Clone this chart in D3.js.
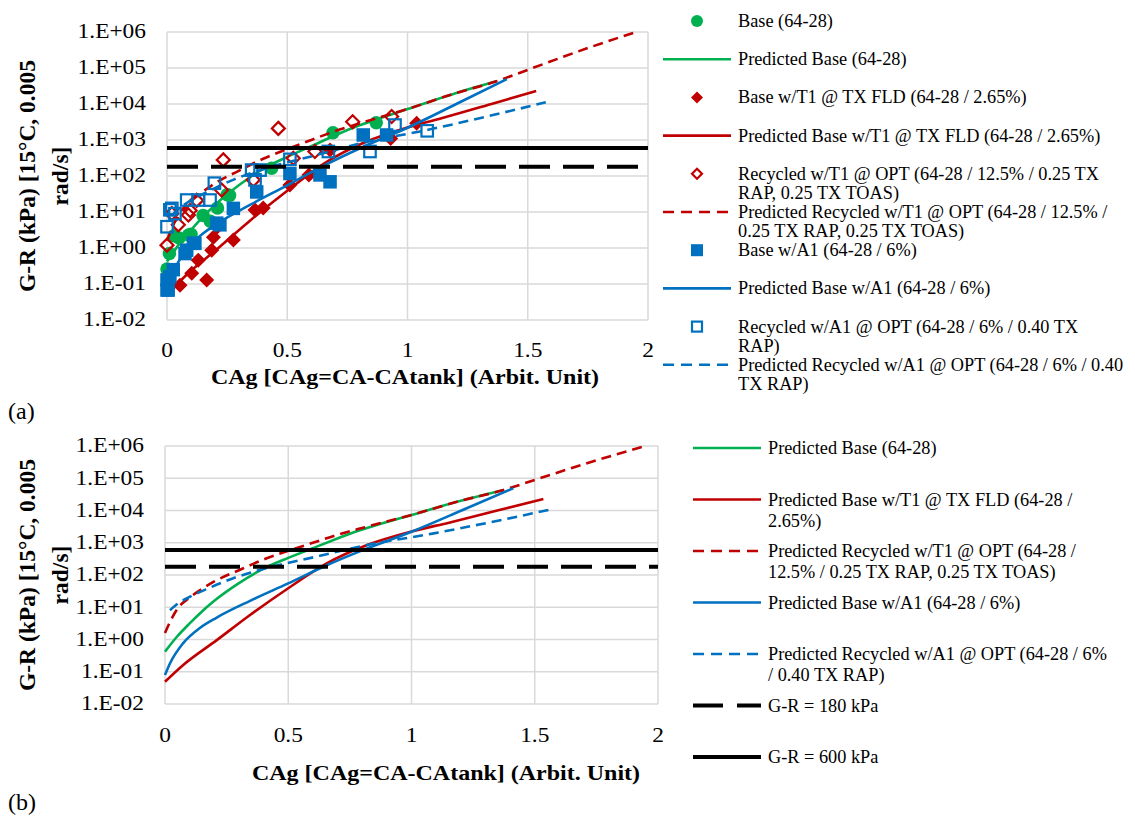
<!DOCTYPE html>
<html><head><meta charset="utf-8">
<script src="https://cdn.jsdelivr.net/npm/d3@7"></script>
<style>
body{margin:0;background:#fff}
svg{display:block}
text{font-family:"Liberation Serif","Times New Roman",serif;fill:#000}
</style>
</head><body>
<svg id="c" width="1135" height="826"></svg>
<script>
// ---------- DATA ----------
const xTickValues = [0, 0.5, 1, 1.5, 2];
const yTickValues = [1e-2, 1e-1, 1, 1e1, 1e2, 1e3, 1e4, 1e5, 1e6];
const limitValues = [180, 600];

// measured points
const baseX = [0.00, 0.01, 0.03, 0.05, 0.09, 0.10, 0.15, 0.18, 0.21, 0.25, 0.26, 0.435, 0.69, 0.87];
const baseY = [0.26, 0.7, 2.2, 1.9, 2.3, 2.4, 8.0, 5.5, 13, 30, 29, 165, 1600, 3000];

const baseT1X = [0.054, 0.103, 0.13, 0.165, 0.186, 0.193, 0.21, 0.276, 0.366, 0.40, 0.511, 0.59, 0.678, 0.93, 1.038];
const baseT1Y = [0.093, 0.2, 0.46, 0.13, 0.87, 2.0, 3.9, 1.67, 11.4, 13, 56, 107, 525, 1100, 2900];

const recT1X = [0.0, 0.02, 0.047, 0.089, 0.096, 0.123, 0.227, 0.234, 0.359, 0.463, 0.525, 0.615, 0.772, 0.934];
const recT1Y = [1.2, 9, 4.4, 8.3, 11, 21, 41, 280, 78, 2100, 310, 480, 3200, 4500];

const baseA1X = [0.0, 0.0, 0.005, 0.012, 0.026, 0.075, 0.082, 0.11, 0.116, 0.207, 0.22, 0.276, 0.373, 0.511, 0.636, 0.678, 0.816, 0.913];
const baseA1Y = [0.068, 0.13, 0.068, 0.16, 0.25, 0.7, 0.87, 1.35, 1.35, 4.9, 4.4, 12.6, 36, 117, 107, 69, 1380, 1380];

const recA1X = [0.0, 0.012, 0.02, 0.033, 0.082, 0.13, 0.179, 0.197, 0.352, 0.366, 0.387, 0.511, 0.671, 0.844, 0.948, 1.082];
const recA1Y = [3.9, 11.5, 12.6, 9, 21.5, 21.5, 21.5, 63, 146, 78, 146, 290, 480, 480, 2600, 1800];

// predicted curves (values in kPa)
const predBaseX = [0, 0.05, 0.1, 0.15, 0.2, 0.3, 0.4, 0.5, 0.6, 0.75, 1.0, 1.2, 1.37];
const predBaseY = [0.42, 1.26, 3.16, 7.4, 15.8, 56, 158, 339, 676, 1900, 7240, 20000, 42700];

const predT1X = [0, 0.074, 0.21, 0.345, 0.5, 0.656, 0.82, 1.0, 1.156, 1.36, 1.535];
const predT1Y = [0.049, 0.162, 0.955, 5.75, 38.9, 229, 851, 2240, 4270, 10500, 22900];

const predRecT1X = [0, 0.02, 0.05, 0.1, 0.15, 0.2, 0.3, 0.4, 0.5, 0.6, 0.7, 0.82, 1.0, 1.2, 1.37, 1.5, 1.765, 1.95];
const predRecT1Y = [1.6, 3.5, 8.9, 20, 37, 63, 141, 302, 562, 1000, 1780, 3160, 7240, 20000, 42700, 89000, 389000, 1000000];

const predA1X = [0, 0.02, 0.073, 0.14, 0.21, 0.345, 0.5, 0.656, 0.805, 1.0, 1.224, 1.413];
const predA1Y = [0.079, 0.18, 0.76, 2.24, 4.8, 15.8, 55, 200, 600, 2190, 11750, 49000];

const predRecA1X = [0.02, 0.05, 0.1, 0.18, 0.277, 0.41, 0.615, 0.82, 1.09, 1.36, 1.575];
const predRecA1Y = [8.1, 12.6, 20.9, 39.8, 79.4, 162, 372, 851, 1950, 5010, 11200];

const legendA = [
  ["Base (64-28)"],
  ["Predicted Base (64-28)"],
  ["Base w/T1 @ TX FLD (64-28 / 2.65%)"],
  ["Predicted Base w/T1 @ TX FLD (64-28 / 2.65%)"],
  ["Recycled w/T1 @ OPT (64-28 / 12.5% / 0.25 TX", "RAP, 0.25 TX TOAS)"],
  ["Predicted Recycled w/T1 @ OPT (64-28 / 12.5% /", "0.25 TX RAP, 0.25 TX TOAS)"],
  ["Base w/A1 (64-28 / 6%)"],
  ["Predicted Base w/A1 (64-28 / 6%)"],
  ["Recycled w/A1 @ OPT (64-28 / 6% / 0.40 TX", "RAP)"],
  ["Predicted Recycled w/A1 @ OPT (64-28 / 6% / 0.40", "TX RAP)"]
];
const legendB = [
  ["Predicted Base (64-28)"],
  ["Predicted Base w/T1 @ TX FLD (64-28 /", "2.65%)"],
  ["Predicted Recycled w/T1 @ OPT (64-28 /", "12.5% / 0.25 TX RAP, 0.25 TX TOAS)"],
  ["Predicted Base w/A1 (64-28 / 6%)"],
  ["Predicted Recycled w/A1 @ OPT (64-28 / 6%", "/ 0.40 TX RAP)"],
  ["G-R = 180 kPa"],
  ["G-R = 600 kPa"]
];
const xTitle = "CAg [CAg=CA-CAtank] (Arbit. Unit)";
const yTitle = ["G-R (kPa) [15°C, 0.005", "rad/s]"];

// ---------- STYLE ----------
const GREEN = "#00b050", RED = "#c00000", BLUE = "#0070c0";
const zip = (xs, ys) => xs.map((x, i) => [x, ys[i]]);

const scatterSeries = [
  {key: "base", data: zip(baseX, baseY), shape: "circle", color: GREEN, filled: true},
  {key: "baseT1", data: zip(baseT1X, baseT1Y), shape: "diamond", color: RED, filled: true},
  {key: "recT1", data: zip(recT1X, recT1Y), shape: "diamond", color: RED, filled: false},
  {key: "baseA1", data: zip(baseA1X, baseA1Y), shape: "square", color: BLUE, filled: true},
  {key: "recA1", data: zip(recA1X, recA1Y), shape: "square", color: BLUE, filled: false}
];
const lineSeries = [
  {key: "predBase", data: zip(predBaseX, predBaseY), color: GREEN, dash: null},
  {key: "predT1", data: zip(predT1X, predT1Y), color: RED, dash: null},
  {key: "predRecT1", data: zip(predRecT1X, predRecT1Y), color: RED, dash: "10,6"},
  {key: "predA1", data: zip(predA1X, predA1Y), color: BLUE, dash: null},
  {key: "predRecA1", data: zip(predRecA1X, predRecA1Y), color: BLUE, dash: "10,6"}
];

const svg = d3.select("#c");

function fmtExp(v) {
  const e = Math.round(Math.log10(v));
  const s = e < 0 ? "-" : "+";
  return "1.E" + s + String(Math.abs(e)).padStart(2, "0");
}

function stretchedText(g, x, y, str, opts) {
  const t = g.append("g").attr("transform", `translate(${x},${y}) scale(${opts.sx || 1},1)`)
    .append("text").attr("x", 0).attr("y", 0)
    .attr("text-anchor", opts.anchor || "start")
    .style("font-size", opts.size + "px")
    .style("font-weight", opts.bold ? "bold" : "normal")
    .text(str);
  if (opts.central) t.attr("dominant-baseline", "central");
  return t;
}

function drawMarker(g, shape, cx, cy, size, color, filled) {
  let el;
  if (shape === "circle") {
    el = g.append("circle").attr("cx", cx).attr("cy", cy).attr("r", size / 2);
  } else if (shape === "square") {
    const s = filled ? size : size - 2;
    el = g.append("rect").attr("x", cx - s / 2).attr("y", cy - s / 2).attr("width", s).attr("height", s);
  } else {
    const h = filled ? size / 2 : size / 2 - 1;
    el = g.append("path").attr("d", `M${cx},${cy - h}L${cx + h},${cy}L${cx},${cy + h}L${cx - h},${cy}Z`);
  }
  if (filled) el.attr("fill", color).attr("stroke", "none");
  else el.attr("fill", "none").attr("stroke", color).attr("stroke-width", 2.2);
  return el;
}

function drawPanel(cfg) {
  const g = svg.append("g");
  const x = d3.scaleLinear().domain([0, 2]).range([cfg.x0, cfg.x1]);
  const y = d3.scaleLog().domain([1e-2, 1e6]).range([cfg.yb, cfg.yt]);

  g.selectAll(".hg").data(yTickValues).join("line")
    .attr("x1", cfg.x0).attr("x2", cfg.x1).attr("y1", d => y(d)).attr("y2", d => y(d))
    .attr("stroke", "#d9d9d9").attr("stroke-width", 1.5);
  g.selectAll(".vg").data(xTickValues).join("line")
    .attr("x1", d => x(d)).attr("x2", d => x(d)).attr("y1", cfg.yt).attr("y2", cfg.yb)
    .attr("stroke", "#d9d9d9").attr("stroke-width", 1.5);

  yTickValues.forEach(v => stretchedText(g, cfg.x0 - 21, y(v), fmtExp(v), {size: 20, sx: 1.17, anchor: "end", central: true}));
  xTickValues.forEach(v => stretchedText(g, x(v), cfg.xTickY, d3.format("")(v), {size: 20, sx: 1.17, anchor: "middle"}));

  stretchedText(g, cfg.xTitleX, cfg.xTitleY, xTitle, {size: 20, sx: 1.2, anchor: "middle", bold: true});
  const cy = (cfg.yt + cfg.yb) / 2;
  yTitle.forEach((line, i) => {
    g.append("text").attr("transform", `translate(${[27, 60][i]},${cy}) rotate(-90)`)
      .attr("text-anchor", "middle").attr("dominant-baseline", "central")
      .style("font-size", "23.5px").style("font-weight", "bold").text(line);
  });

  const lineGen = d3.line().x(d => x(d[0])).y(d => y(d[1])).curve(d3.curveMonotoneX);
  const drawLine = s => g.append("path").datum(s.data).attr("d", lineGen)
    .attr("fill", "none").attr("stroke", s.color).attr("stroke-width", 2.6)
    .attr("stroke-dasharray", s.dash);
  const drawScatter = s => s.data.forEach(d => drawMarker(g, s.shape, x(d[0]), y(d[1]), s.shape === "circle" ? 13.5 : (s.shape === "square" ? 13.5 : 15), s.color, s.filled));

  if (cfg.withPoints) {
    drawScatter(scatterSeries[0]); drawLine(lineSeries[0]);
    drawScatter(scatterSeries[1]); drawLine(lineSeries[1]);
    drawScatter(scatterSeries[2]); drawLine(lineSeries[2]);
    drawScatter(scatterSeries[3]); drawLine(lineSeries[3]);
    drawScatter(scatterSeries[4]); drawLine(lineSeries[4]);
  } else {
    lineSeries.forEach(drawLine);
  }

  g.append("line").attr("x1", cfg.x0).attr("x2", cfg.x1).attr("y1", y(limitValues[0])).attr("y2", y(limitValues[0]))
    .attr("stroke", "#000").attr("stroke-width", 4).attr("stroke-dasharray", "31,13");
  g.append("line").attr("x1", cfg.x0).attr("x2", cfg.x1).attr("y1", y(limitValues[1])).attr("y2", y(limitValues[1]))
    .attr("stroke", "#000").attr("stroke-width", 4);

  g.append("text").attr("x", 8).attr("y", cfg.labelY).style("font-size", "24px").text(cfg.label);
}

drawPanel({x0: 167, x1: 648, yt: 32, yb: 320, xTickY: 357, xTitleX: 405, xTitleY: 384, withPoints: true, label: "(a)", labelY: 419});
drawPanel({x0: 165, x1: 658, yt: 446, yb: 704, xTickY: 742, xTitleX: 446, xTitleY: 780, withPoints: false, label: "(b)", labelY: 810});

// ---------- LEGENDS ----------
const LFS = 18.3;
function legendText(g, tx, ty, lines, lh) {
  lines.forEach((l, i) => g.append("text").attr("x", tx).attr("y", ty + i * lh)
    .attr("dominant-baseline", "central").style("font-size", LFS + "px").text(l));
}
(function () {
  const g = svg.append("g");
  const items = [
    {type: "pt", s: scatterSeries[0]}, {type: "ln", s: lineSeries[0]},
    {type: "pt", s: scatterSeries[1]}, {type: "ln", s: lineSeries[1]},
    {type: "pt", s: scatterSeries[2]}, {type: "ln", s: lineSeries[2]},
    {type: "pt", s: scatterSeries[3]}, {type: "ln", s: lineSeries[3]},
    {type: "pt", s: scatterSeries[4]}, {type: "ln", s: lineSeries[4]}
  ];
  items.forEach((it, i) => {
    const yy = 21 + i * 38.2;
    if (it.type === "pt") drawMarker(g, it.s.shape, 697, yy, 12, it.s.color, it.s.filled);
    else g.append("line").attr("x1", 663).attr("x2", 731).attr("y1", yy).attr("y2", yy)
      .attr("stroke", it.s.color).attr("stroke-width", 2.6).attr("stroke-dasharray", it.s.dash ? "11,7" : null);
    legendText(g, 738, yy, legendA[i], 19.2);
  });
})();
(function () {
  const g = svg.append("g");
  const items = [
    {color: GREEN}, {color: RED}, {color: RED, dash: "11,7"}, {color: BLUE}, {color: BLUE, dash: "11,7"},
    {color: "#000", dash: "30,14", w: 4}, {color: "#000", w: 4}
  ];
  items.forEach((it, i) => {
    const yy = 448 + i * 51.5;
    g.append("line").attr("x1", 693).attr("x2", 761).attr("y1", yy).attr("y2", yy)
      .attr("stroke", it.color).attr("stroke-width", it.w || 2.6).attr("stroke-dasharray", it.dash || null);
    legendText(g, 768, yy, legendB[i], 21);
  });
})();
</script>
</body></html>
